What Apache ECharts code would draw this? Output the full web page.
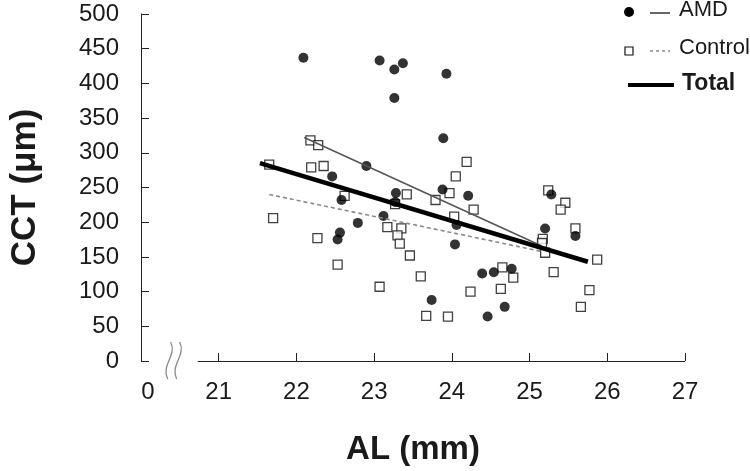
<!DOCTYPE html>
<html><head><meta charset="utf-8">
<script src="https://cdn.jsdelivr.net/npm/echarts@6/dist/echarts.min.js"></script>
<style>html,body{margin:0;padding:0;background:#fff}#c{width:750px;height:471px}</style>
</head><body><div id="c"></div>
<script>
// ---- data ----
const xTicks = [21, 22, 23, 24, 25, 26, 27];
const yTicks = [0, 50, 100, 150, 200, 250, 300, 350, 400, 450, 500];
const xOriginLabel = '0';
const amdPoints = [
  [22.09, 437], [23.07, 433], [23.26, 420], [23.37, 429], [23.26, 379], [23.93, 414],
  [22.46, 266], [22.90, 281], [22.58, 232], [22.56, 185], [22.53, 175], [22.79, 199],
  [23.28, 242], [23.27, 229], [23.12, 209], [23.74, 88], [23.89, 321], [23.88, 247],
  [24.21, 238], [24.06, 196], [24.04, 168], [25.28, 240], [25.20, 191], [25.59, 180],
  [24.77, 133], [24.54, 128], [24.39, 126], [24.68, 78], [24.46, 64]
];
const controlPoints = [
  [21.65, 283], [21.70, 206], [22.18, 318], [22.28, 311], [22.19, 279], [22.35, 281],
  [22.62, 238], [22.27, 177], [22.53, 139], [23.07, 107], [23.27, 226], [23.42, 240],
  [23.79, 232], [23.17, 193], [23.35, 191], [23.30, 181], [23.33, 169], [23.46, 152],
  [23.60, 122], [23.67, 65], [24.19, 287], [24.05, 266], [23.97, 242], [24.28, 218],
  [24.03, 208], [25.24, 246], [25.46, 228], [25.40, 218], [25.59, 191], [25.17, 176],
  [25.16, 170], [25.20, 156], [25.87, 146], [25.31, 128], [24.65, 135], [24.79, 120],
  [24.63, 104], [24.24, 100], [25.77, 102], [25.66, 78], [23.95, 64]
];
const amdFit = [[22.10, 322], [25.15, 166]];
const controlFit = [[21.65, 240], [25.15, 158]];
const totalFit = [[21.53, 285], [25.75, 143]];
const seriesNames = ['AMD', 'Control', 'Total'];
const axisNames = { x: 'AL (mm)', y: 'CCT (μm)' };
const X_MIN = 20, X_MAX = 27, X_BREAK_END = 20.73, X_BREAK_MID = 20.42;

// ---- chart ----
const FONT = "'Liberation Sans', Arial, Helvetica, sans-serif";
const TXT = '#1a1a1a';
const TICK_FS = 24;
const chart = echarts.init(document.getElementById('c'), null, { renderer: 'canvas' });
chart.setOption({
  animation: false,
  backgroundColor: '#fff',
  textStyle: { fontFamily: FONT },
  grid: { left: 118, right: 65, top: 14, bottom: 107, containLabel: false },
  xAxis: {
    type: 'value', min: X_MIN, max: X_MAX, interval: 1,
    name: axisNames.x, nameLocation: 'middle', nameGap: 72,
    nameTextStyle: { fontFamily: FONT, fontSize: 33, fontWeight: 'bold', color: TXT },
    axisLine: { show: false },
    axisTick: { show: true, inside: true, length: 8, customValues: xTicks, lineStyle: { color: '#222', width: 1 } },
    axisLabel: {
      customValues: [X_MIN].concat(xTicks), margin: 19,
      fontFamily: FONT, fontSize: TICK_FS, color: TXT,
      formatter: v => (v === X_MIN ? '{z|' + xOriginLabel + '}' : String(v)),
      rich: { z: { fontFamily: FONT, fontSize: TICK_FS, color: TXT, padding: [0, 0, 0, 14] } }
    },
    splitLine: { show: false }
  },
  yAxis: {
    type: 'value', min: 0, max: 500, interval: 50,
    name: axisNames.y, nameLocation: 'middle', nameGap: 98, nameRotate: 90,
    nameTextStyle: { fontFamily: FONT, fontSize: 35, fontWeight: 'bold', color: TXT },
    axisLine: { show: true, lineStyle: { color: '#222', width: 1 } },
    axisTick: { show: true, inside: true, length: 8, customValues: yTicks, lineStyle: { color: '#222', width: 1 } },
    axisLabel: { customValues: yTicks, margin: 22, fontFamily: FONT, fontSize: TICK_FS, color: TXT },
    splitLine: { show: false }
  },
  series: [
    { name: seriesNames[0], type: 'scatter', data: amdPoints, symbol: 'circle', symbolSize: 10,
      itemStyle: { color: '#000' }, z: 3 },
    { name: seriesNames[1], type: 'scatter', data: controlPoints, symbol: 'rect', symbolSize: 9,
      itemStyle: { color: '#fff', borderColor: '#111', borderWidth: 1.3 }, z: 2 },
    { name: seriesNames[0] + ' fit', type: 'line', data: amdFit, symbol: 'none', z: 4,
      lineStyle: { color: '#555', width: 1.5 } },
    { name: seriesNames[1] + ' fit', type: 'line', data: controlFit, symbol: 'none', z: 4,
      lineStyle: { color: '#8a8a8a', width: 1.6, type: [4, 3] } },
    { name: seriesNames[2], type: 'line', data: totalFit, symbol: 'none', z: 5,
      lineStyle: { color: '#000', width: 4.5 },
      markLine: {
        silent: true, symbol: ['none', 'none'], label: { show: false },
        lineStyle: { color: '#222', width: 1, type: 'solid' },
        data: [[{ coord: [X_BREAK_END, 0] }, { coord: [X_MAX, 0] }]]
      } }
  ]
});

// axis-break squiggles and legend, positioned from the axis scales
const p = chart.convertToPixel({ xAxisIndex: 0, yAxisIndex: 0 }, [X_BREAK_MID, 0]);
const bx = p[0], by = p[1];
function squiggle(x) {
  return { type: 'bezierCurve', silent: true,
    shape: { x1: x + 2, y1: by - 19, x2: x - 1, y2: by + 18, cpx1: x + 9, cpy1: by - 6, cpx2: x - 8, cpy2: by + 4 },
    style: { stroke: '#888', lineWidth: 1.3, fill: null } };
}
const lx = 628, ly = [12, 51, 85];
chart.setOption({
  graphic: [
    squiggle(bx - 5), squiggle(bx + 4),
    { type: 'circle', silent: true, shape: { cx: lx + 1, cy: ly[0], r: 5 }, style: { fill: '#000' } },
    { type: 'line', silent: true, shape: { x1: lx + 22, y1: ly[0] + 1, x2: lx + 42, y2: ly[0] + 1 }, style: { stroke: '#333', lineWidth: 1.5 } },
    { type: 'text', silent: true, x: lx + 51, y: ly[0] - 2, style: { text: seriesNames[0], font: '22px ' + FONT, fill: TXT, textVerticalAlign: 'middle' } },
    { type: 'rect', silent: true, shape: { x: lx - 3, y: ly[1] - 4, width: 8, height: 8 }, style: { fill: '#fff', stroke: '#111', lineWidth: 1.2 } },
    { type: 'line', silent: true, shape: { x1: lx + 22, y1: ly[1], x2: lx + 42, y2: ly[1] }, style: { stroke: '#888', lineWidth: 1.4, lineDash: [3, 3] } },
    { type: 'text', silent: true, x: lx + 51, y: ly[1] - 3, style: { text: seriesNames[1], font: '22px ' + FONT, fill: TXT, textVerticalAlign: 'middle' } },
    { type: 'line', silent: true, shape: { x1: lx, y1: ly[2], x2: lx + 46, y2: ly[2] }, style: { stroke: '#000', lineWidth: 4 } },
    { type: 'text', silent: true, x: lx + 54, y: ly[2] - 1, style: { text: seriesNames[2], font: 'bold 23px ' + FONT, fill: TXT, textVerticalAlign: 'middle' } }
  ]
});
</script>
</body></html>
